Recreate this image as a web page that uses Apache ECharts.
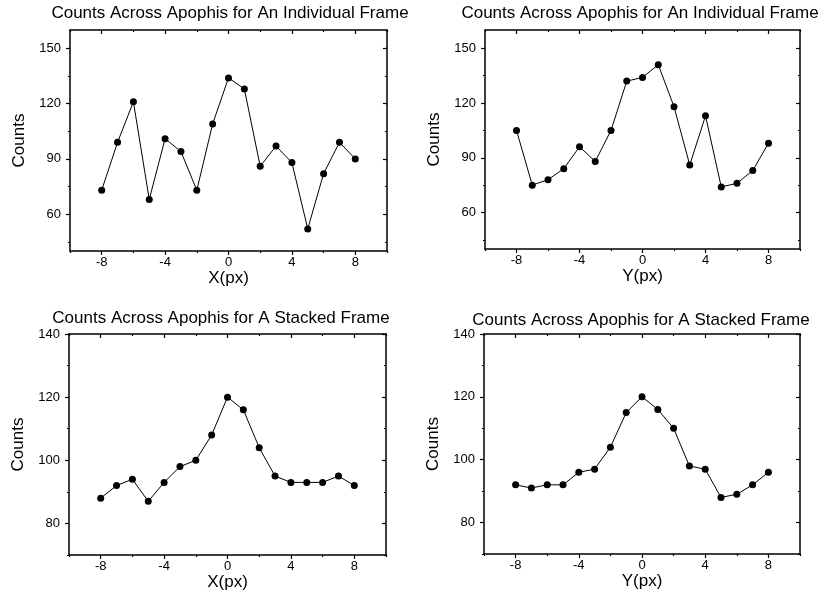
<!DOCTYPE html>
<html><head><meta charset="utf-8">
<script src="https://cdn.jsdelivr.net/npm/echarts@6/dist/echarts.min.js"></script>
<style>html,body{margin:0;padding:0;background:#fff}#c{width:823px;height:606px}</style>
</head><body><div id="c"></div>
<script>
const positions = [-8,-7,-6,-5,-4,-3,-2,-1,0,1,2,3,4,5,6,7,8];
const countsXIndividual = [73,99,121,68,101,94,73,109,134,128,86,97,88,52,82,99,90];
const countsYIndividual = [105,75,78,84,96,88,105,132,134,141,118,86,113,74,76,83,98];
const countsXStacked = [88,92,94,87,93,98,100,108,120,116,104,95,93,93,93,95,92];
const countsYStacked = [92,91,92,92,96,97,104,115,120,116,110,98,97,88,89,92,96];
const panelTitles = [
  'Counts Across Apophis for An Individual Frame',
  'Counts Across Apophis for An Individual Frame',
  'Counts Across Apophis for A Stacked Frame',
  'Counts Across Apophis for A Stacked Frame'
];
const xAxisNames = ['X(px)','Y(px)','X(px)','Y(px)'];
const yAxisName = 'Counts';
const xMajorTicks = [-8,-4,0,4,8];
const xMinorTicks = [-10,-6,-2,2,6,10];
const yMajorIndividual = [60,90,120,150];
const yMinorIndividual = [45,75,105,135];
const yMajorStacked = [80,100,120,140];
const yMinorStacked = [70,90,110,130];

const FONT = 'Liberation Sans, Arial, sans-serif';
const panels = [
  {grid:{left:70, top:30, width:317, height:221}, data:countsXIndividual, ymin:40, ymax:160, yMaj:yMajorIndividual, yMin:yMinorIndividual, tx:225, ty:0},
  {grid:{left:485, top:30, width:315, height:219}, data:countsYIndividual, ymin:40, ymax:160, yMaj:yMajorIndividual, yMin:yMinorIndividual, tx:635, ty:0},
  {grid:{left:69, top:334, width:317, height:221}, data:countsXStacked, ymin:70, ymax:140, yMaj:yMajorStacked, yMin:yMinorStacked, tx:216, ty:305},
  {grid:{left:484, top:334, width:316, height:220}, data:countsYStacked, ymin:70, ymax:140, yMaj:yMajorStacked, yMin:yMinorStacked, tx:636, ty:307}
];

const lineStyle = {color:'#000', width:1.5};
function axisSet(g, isX, min, max, major, minor, name) {
  const posA = isX ? 'bottom' : 'left';
  const posB = isX ? 'top' : 'right';
  const base = {type:'value', gridIndex:g, min:min, max:max, splitLine:{show:false}};
  const list = [];
  list.push(Object.assign({}, base, {
    position: posA,
    axisLine:{show:true, onZero:false, lineStyle:lineStyle},
    axisTick:{show:true, inside:false, length:2, customValues:minor, lineStyle:{color:'#000', width:1.2}},
    axisLabel:{show:true, customValues:major, color:'#000', fontSize:13, fontFamily:FONT, margin: isX ? 5 : 9},
    name:name, nameLocation:'middle', nameGap: isX ? 16 : 42,
    nameTextStyle:{color:'#000', fontSize:17, fontFamily:FONT}
  }));
  list.push(Object.assign({}, base, {
    position: posA,
    axisLine:{show:false, onZero:false},
    axisTick:{show:true, inside:false, length:4, customValues:major, lineStyle:{color:'#000', width:1.2}},
    axisLabel:{show:false}
  }));
  list.push(Object.assign({}, base, {
    position: posB,
    axisLine:{show:true, onZero:false, lineStyle:lineStyle},
    axisTick:{show:true, inside:true, length:2, customValues:minor, lineStyle:{color:'#000', width:1.2}},
    axisLabel:{show:false}
  }));
  list.push(Object.assign({}, base, {
    position: posB,
    axisLine:{show:false, onZero:false},
    axisTick:{show:true, inside:true, length:4, customValues:major, lineStyle:{color:'#000', width:1.2}},
    axisLabel:{show:false}
  }));
  return list;
}

const grids = [], xAxes = [], yAxes = [], series = [], titles = [];
panels.forEach((p, g) => {
  grids.push(Object.assign({containLabel:false}, p.grid));
  xAxes.push(...axisSet(g, true, -10, 10, xMajorTicks, xMinorTicks, xAxisNames[g]));
  yAxes.push(...axisSet(g, false, p.ymin, p.ymax, p.yMaj, p.yMin, yAxisName));
  titles.push({text:panelTitles[g], left:p.tx, top:p.ty, textAlign:'center',
    textStyle:{color:'#000', fontSize:17, fontWeight:'normal', fontFamily:FONT}});
  series.push({
    type:'line', xAxisIndex:g*4, yAxisIndex:g*4,
    data: positions.map((x, i) => [x, p.data[i]]),
    symbol:'circle', symbolSize:7,
    itemStyle:{color:'#000'},
    lineStyle:{color:'#000', width:1},
    animation:false
  });
});

const chart = echarts.init(document.getElementById('c'), null, {renderer:'canvas'});
chart.setOption({
  backgroundColor:'#fff',
  animation:false,
  title: titles,
  grid: grids,
  xAxis: xAxes,
  yAxis: yAxes,
  series: series
});
</script>
</body></html>
